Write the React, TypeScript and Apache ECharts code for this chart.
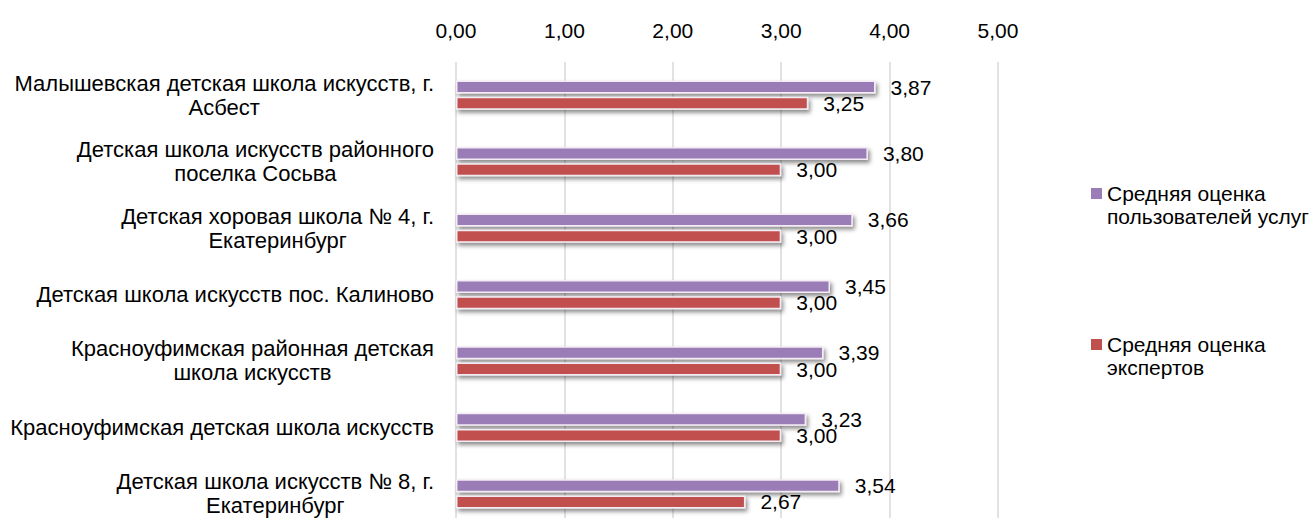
import React, { useEffect, useRef } from "react";
import * as echarts from "echarts";

const categories: string[] = [
  "Малышевская детская школа искусств, г.\nАсбест",
  "Детская школа искусств районного\nпоселка Сосьва",
  "Детская хоровая школа № 4, г.\nЕкатеринбург",
  "Детская школа искусств пос. Калиново",
  "Красноуфимская районная детская\nшкола искусств",
  "Красноуфимская детская школа искусств",
  "Детская школа искусств № 8, г.\nЕкатеринбург",
];

const usersName = "Средняя оценка\nпользователей услуг";
const expertsName = "Средняя оценка\nэкспертов";

const usersValues: number[] = [3.87, 3.8, 3.66, 3.45, 3.39, 3.23, 3.54];
const expertsValues: number[] = [3.25, 3.0, 3.0, 3.0, 3.0, 3.0, 2.67];

const xTicks = { min: 0, max: 5, interval: 1 };

const FONT = "'Liberation Sans', Arial, sans-serif";
const fmt = (v: number) => v.toFixed(2).replace(".", ",");

const legendIcon =
  "path://M0,0L0.01,0 M0,6L11,6L11,17L0,17Z M0,46L0.01,46";

export default function App() {
  const ref = useRef<HTMLDivElement>(null);
  useEffect(() => {
    if (!ref.current) return;
    const chart = echarts.init(ref.current, undefined, { renderer: "svg" });
    const barStyle = (color: string) => ({
      color,
      borderColor: "#f4ecf4",
      borderWidth: 1.5,
      shadowBlur: 4,
      shadowColor: "rgba(0,0,0,0.45)",
      shadowOffsetX: 2,
      shadowOffsetY: 3,
    });
    const labelStyle = {
      show: true,
      position: "right" as const,
      distance: 15,
      fontFamily: FONT,
      fontSize: 21,
      color: "#000",
      formatter: (p: any) => fmt(p.value),
    };
    chart.setOption({
      animation: false,
      backgroundColor: "#fff",
      textStyle: { fontFamily: FONT },
      grid: {
        left: 456,
        top: 62,
        width: 542,
        height: 465,
        containLabel: false,
        outerBoundsMode: "none",
      },
      legend: {
        orient: "vertical",
        left: 1086,
        top: 177,
        itemGap: 105,
        itemWidth: 11,
        itemHeight: 46,
        icon: legendIcon,
        itemStyle: { borderWidth: 0, shadowBlur: 0, shadowOffsetX: 0, shadowOffsetY: 0 },
        textStyle: { fontFamily: FONT, fontSize: 21, lineHeight: 23, color: "#000" },
        data: [usersName, expertsName],
      },
      xAxis: {
        type: "value",
        position: "top",
        min: xTicks.min,
        max: xTicks.max,
        interval: xTicks.interval,
        axisLine: { show: false },
        axisTick: { show: false },
        axisLabel: {
          margin: 21,
          fontFamily: FONT,
          fontSize: 21,
          color: "#000",
          formatter: (v: number) => fmt(v),
        },
        splitLine: { show: true, lineStyle: { color: "#d9d9d9", width: 1.5 } },
      },
      yAxis: {
        type: "category",
        inverse: true,
        data: categories,
        axisLine: { show: false },
        axisTick: { show: false },
        axisLabel: {
          margin: 22,
          align: "right",
          fontFamily: FONT,
          fontSize: 22,
          color: "#000",
          formatter: (v: string) =>
            v
              .split("\n")
              .map((l) => `{c|${l}}`)
              .join("\n"),
          rich: {
            c: {
              align: "center",
              fontFamily: FONT,
              fontSize: 22,
              lineHeight: 24,
              color: "#000",
            },
          },
        },
      },
      series: [
        {
          name: usersName,
          type: "bar",
          data: usersValues,
          barWidth: 13,
          barGap: "25%",
          itemStyle: barStyle("#9A7DB7"),
          label: labelStyle,
        },
        {
          name: expertsName,
          type: "bar",
          data: expertsValues,
          barWidth: 13,
          barGap: "25%",
          itemStyle: barStyle("#C0504D"),
          label: labelStyle,
        },
      ],
    });
    return () => chart.dispose();
  }, []);
  return (
    <div
      ref={ref}
      style={{ position: "fixed", left: 0, top: 0, width: 1316, height: 518 }}
    />
  );
}
